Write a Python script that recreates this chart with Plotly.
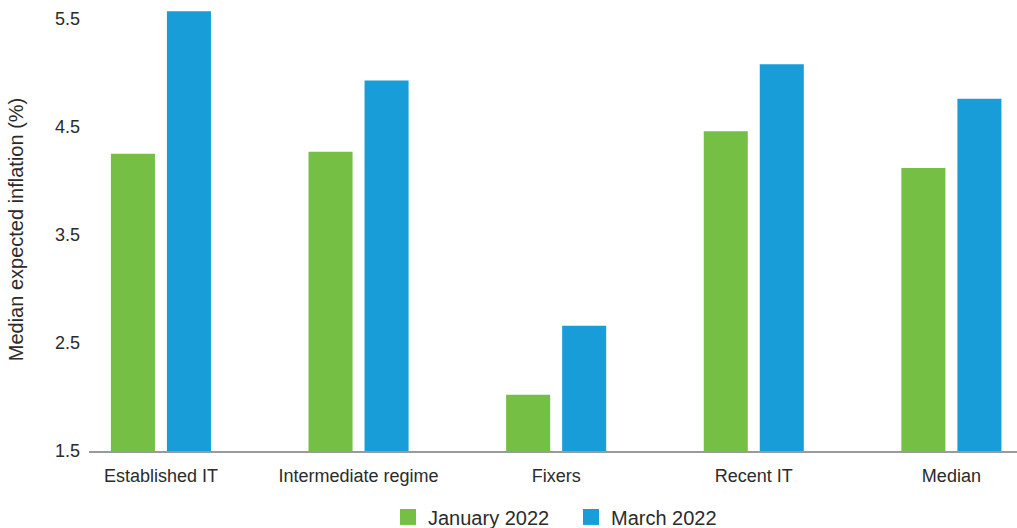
import plotly.graph_objects as go

# Median expected inflation by monetary regime
categories = ["Established IT", "Intermediate regime", "Fixers", "Recent IT", "Median"]
jan_2022 = [4.25, 4.27, 2.02, 4.46, 4.12]
mar_2022 = [5.57, 4.93, 2.66, 5.08, 4.76]
y_ticks = [1.5, 2.5, 3.5, 4.5, 5.5]

GREEN = "#74BF44"
BLUE = "#189DD9"
FONT = "Arial, 'Liberation Sans', sans-serif"
TEXT = "#2b2b2b"

fig = go.Figure()
fig.add_trace(go.Bar(x=categories, y=jan_2022, name="January 2022",
                     marker=dict(color=GREEN, line=dict(width=0)), showlegend=False))
fig.add_trace(go.Bar(x=categories, y=mar_2022, name="March 2022",
                     marker=dict(color=BLUE, line=dict(width=0)), showlegend=False))

# legend entries with larger square swatches
for name, color in [("January 2022", GREEN), ("March 2022", BLUE)]:
    fig.add_trace(go.Scatter(x=[None], y=[None], mode="markers", name=name,
                             marker=dict(symbol="square", size=16, color=color)))

fig.update_layout(
    width=1017, height=528,
    margin=dict(l=89, r=0, t=8, b=77, autoexpand=False),
    paper_bgcolor="white", plot_bgcolor="white",
    barmode="group", bargap=0.433, bargroupgap=0.214,
    font=dict(family=FONT, color=TEXT, size=18),
    showlegend=True,
    legend=dict(orientation="h", x=0.3222, xanchor="left",
                yref="container", y=0.021, yanchor="middle",
                entrywidth=138, entrywidthmode="pixels",
                font=dict(size=20, color=TEXT), itemclick=False,
                traceorder="normal", bgcolor="rgba(0,0,0,0)"),
    xaxis=dict(
        type="category", range=[-0.364, 4.332],
        showline=True, linecolor="#9a9a9a", linewidth=1.5,
        ticks="", ticklabelstandoff=8, showgrid=False, zeroline=False,
        tickfont=dict(size=18, color=TEXT),
    ),
    yaxis=dict(
        range=[1.5, 5.6], tickvals=y_ticks, ticktext=[f"{v:.1f}" for v in y_ticks],
        showgrid=False, zeroline=False, showline=False, ticks="",
        ticklabelstandoff=8, tickfont=dict(size=18, color=TEXT),
        title=dict(text="Median expected inflation (%)", font=dict(size=20, color=TEXT),
                   standoff=25),
    ),
)

fig.write_html("out.html")
